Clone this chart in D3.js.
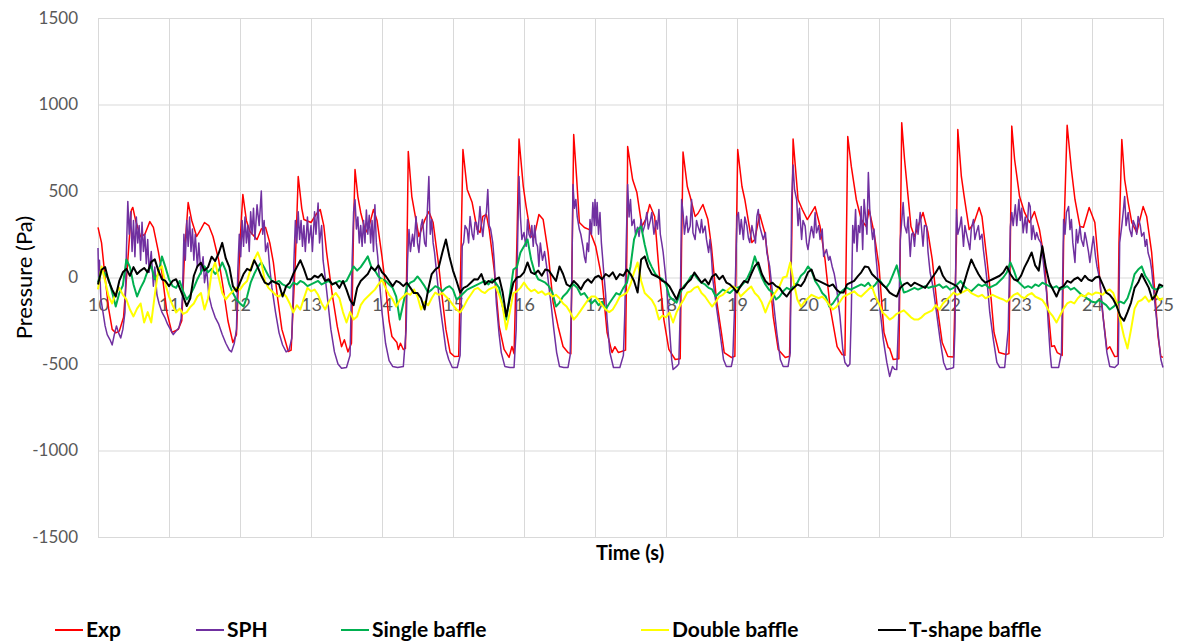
<!DOCTYPE html>
<html>
<head>
<meta charset="utf-8">
<script src="https://cdn.jsdelivr.net/npm/d3@7/dist/d3.min.js"></script>
<style>
	body { margin: 0; background: #fff; }
	svg { display: block; font-family: Lato, "Open Sans", sans-serif; }
</style>
</head>
<body>
<svg id="chart" width="1182" height="643"></svg>
<script>
	// ticks
	var xTicks = [10, 11, 12, 13, 14, 15, 16, 17, 18, 19, 20, 21, 22, 23, 24, 25];
	var yTicks = [-1500, -1000, -500, 0, 500, 1000, 1500];

	// Exp, [time s, pressure Pa]
	var expData = [
		[10.00,290],[10.05,200],[10.10,0],[10.15,-180],[10.20,-300],[10.25,-320],[10.30,-310],[10.36,-230],[10.42,100],[10.47,390],[10.49,405],[10.53,330],[10.60,235],[10.66,250],[10.73,323],[10.78,290],[10.85,150],[10.90,30],[10.97,-200],
		[11.04,-318],[11.13,-300],[11.18,-250],[11.22,150],[11.27,433],[11.32,330],[11.39,237],[11.45,280],[11.50,318],[11.56,300],[11.62,237],[11.70,100],[11.76,-52],[11.83,-250],[11.90,-376],[11.95,-330],
		[12.00,200],[12.04,480],[12.09,330],[12.14,266],[12.24,220],[12.30,280],[12.36,290],[12.42,200],[12.47,87],[12.53,-120],[12.59,-300],[12.64,-370],[12.68,-428],[12.72,-420],[12.78,100],[12.82,584],[12.87,400],[12.90,335],
		[13.00,318],[13.08,370],[13.13,393],[13.18,300],[13.22,145],[13.30,-100],[13.37,-283],[13.43,-400],[13.47,-360],[13.52,-430],[13.57,-380],[13.60,300],[13.62,624],[13.66,468],[13.70,376],[13.77,260],[13.82,300],[13.88,393],[13.93,330],
		[14.00,120],[14.05,-50],[14.10,-250],[14.14,-341],[14.21,-376],[14.23,-416],[14.26,-380],[14.30,-416],[14.33,-410],[14.35,100],[14.37,728],[14.42,468],[14.46,375],[14.52,237],[14.60,330],[14.66,381],[14.72,318],[14.80,64],[14.84,-87],[14.90,-300],[14.96,-434],
		[15.02,-457],[15.08,-455],[15.11,100],[15.14,740],[15.20,509],[15.27,433],[15.34,277],[15.38,260],[15.42,353],[15.47,364],[15.51,277],[15.58,46],[15.65,-283],[15.72,-416],[15.79,-462],[15.83,-399],[15.86,-440],[15.90,200],[15.93,800],[15.99,526],
		[16.03,410],[16.10,237],[16.14,231],[16.21,364],[16.27,335],[16.34,145],[16.41,-145],[16.48,-283],[16.55,-399],[16.62,-434],[16.66,-440],[16.68,200],[16.70,827],[16.74,584],[16.78,318],[16.85,289],[16.92,277],
		[17.01,180],[17.10,-12],[17.17,-318],[17.24,-434],[17.28,-400],[17.33,-434],[17.43,-420],[17.45,200],[17.46,757],[17.53,566],[17.59,491],[17.66,295],[17.72,340],[17.77,422],[17.84,353],[17.90,46],[17.97,-243],
		[18.04,-416],[18.13,-474],[18.20,-470],[18.22,200],[18.24,725],[18.30,526],[18.34,468],[18.41,353],[18.45,370],[18.52,422],[18.59,335],[18.64,180],[18.71,-127],[18.78,-318],[18.82,-434],[18.92,-462],[18.97,-455],[18.99,200],
		[19.01,740],[19.07,526],[19.11,451],[19.21,202],[19.25,220],[19.32,364],[19.39,260],[19.44,104],[19.51,-225],[19.58,-416],[19.68,-462],[19.74,-455],[19.77,200],[19.79,800],[19.86,451],[19.92,393],[19.99,335],
		[20.10,410],[20.17,295],[20.24,104],[20.31,-168],[20.41,-399],[20.48,-445],[20.52,-450],[20.54,200],[20.56,815],[20.61,642],[20.68,451],[20.75,335],[20.82,295],[20.86,393],[20.93,260],
		[21.00,64],[21.07,-318],[21.13,-405],[21.15,-410],[21.20,-474],[21.28,-470],[21.30,200],[21.32,895],[21.36,682],[21.40,509],[21.45,295],[21.50,237],[21.62,376],[21.69,260],[21.75,104],[21.82,-168],[21.89,-376],[21.93,-416],[21.97,-457],
		[22.05,-460],[22.09,200],[22.11,855],[22.16,584],[22.20,468],[22.27,277],[22.34,318],[22.41,405],[22.45,353],[22.52,104],[22.58,-127],[22.62,-318],[22.69,-434],[22.79,-445],[22.83,-440],[22.85,200],[22.87,875],[22.91,682],[22.98,468],
		[23.05,376],[23.12,318],[23.19,381],[23.26,277],[23.33,104],[23.37,-127],[23.43,-399],[23.47,-395],[23.51,-434],[23.58,-450],[23.60,200],[23.65,880],[23.71,624],[23.76,451],[23.83,295],[23.88,290],[23.96,405],
		[24.04,318],[24.09,87],[24.14,-168],[24.21,-416],[24.25,-400],[24.32,-457],[24.36,-455],[24.38,200],[24.42,798],[24.46,566],[24.51,433],[24.56,318],[24.63,260],[24.72,410],[24.77,353],[24.84,145],[24.89,-110],[24.93,-341],[24.97,-457],[25.00,-462]
	];

	// SPH
	var sphData = [
		[10.00,170],[10.01,-40],[10.02,100],[10.04,-120],[10.07,-200],[10.10,-280],[10.13,-330],[10.17,-360],[10.20,-390],[10.23,-330],[10.26,-280],[10.29,-320],[10.32,-350],[10.35,-300],[10.38,-200],[10.40,150],[10.42,440],[10.44,250],[10.46,380],[10.48,150],[10.50,330],[10.52,120],[10.54,350],[10.56,200],[10.58,300],[10.60,100],[10.62,320],[10.64,150],[10.66,250],[10.68,80],[10.70,220],[10.72,30],[10.75,150],[10.78,-50],[10.80,60],[10.83,-100],[10.86,-150],[10.90,-200],[10.94,-230],[10.98,-270],
		[11.02,-300],[11.06,-330],[11.10,-310],[11.14,-290],[11.17,-240],[11.19,-100],[11.21,250],[11.23,100],[11.25,330],[11.27,180],[11.29,350],[11.31,150],[11.33,280],[11.35,100],[11.37,250],[11.40,60],[11.42,200],[11.45,20],[11.48,120],[11.50,-30],[11.53,50],[11.56,-100],[11.60,-170],[11.65,-230],[11.70,-270],[11.75,-330],[11.80,-380],[11.85,-420],[11.88,-430],[11.92,-380],[11.95,-300],[11.97,50],[11.99,250],
		[12.01,120],[12.03,330],[12.05,180],[12.07,350],[12.09,200],[12.11,300],[12.13,150],[12.15,380],[12.17,250],[12.19,400],[12.21,220],[12.24,420],[12.27,300],[12.30,500],[12.32,250],[12.34,330],[12.36,150],[12.39,200],[12.42,50],[12.45,-60],[12.50,-200],[12.55,-320],[12.60,-390],[12.65,-430],[12.69,-420],[12.73,-350],[12.76,100],[12.78,330],[12.80,200],[12.82,380],[12.84,220],[12.86,330],[12.88,180],[12.90,300],[12.92,150],[12.95,350],[12.97,200],
		[13.00,300],[13.02,150],[13.05,380],[13.07,250],[13.10,430],[13.12,200],[13.15,300],[13.17,100],[13.20,0],[13.24,-150],[13.28,-300],[13.33,-430],[13.38,-500],[13.43,-525],[13.50,-520],[13.55,-450],[13.58,100],[13.60,380],[13.62,450],[13.64,280],[13.66,350],[13.68,200],[13.70,300],[13.72,180],[13.74,330],[13.76,200],[13.78,390],[13.80,250],[13.82,360],[13.84,200],[13.86,330],[13.88,150],[13.90,420],[13.92,200],[13.94,120],[13.97,-50],
		[14.00,-200],[14.05,-380],[14.10,-480],[14.15,-514],[14.22,-520],[14.30,-515],[14.34,-300],[14.36,100],[14.38,277],[14.40,150],[14.43,250],[14.45,180],[14.48,353],[14.50,200],[14.52,145],[14.55,300],[14.57,335],[14.60,200],[14.62,180],[14.64,400],[14.66,584],[14.68,250],[14.70,335],[14.72,200],[14.74,145],[14.76,64],[14.80,-100],[14.83,-202],[14.90,-416],[14.94,-474],[14.99,-520],
		[15.06,-520],[15.10,-450],[15.12,-100],[15.13,180],[15.15,202],[15.17,300],[15.20,277],[15.22,200],[15.24,353],[15.27,250],[15.29,220],[15.31,320],[15.33,318],[15.35,250],[15.38,410],[15.40,300],[15.42,237],[15.44,330],[15.47,376],[15.49,509],[15.51,300],[15.53,280],[15.56,202],[15.58,100],[15.61,-145],[15.65,-330],[15.68,-434],[15.73,-514],[15.80,-520],[15.86,-520],[15.89,-300],[15.91,200],[15.93,584],[15.95,350],[15.97,220],
		[16.00,260],[16.02,200],[16.03,180],[16.05,335],[16.07,250],[16.09,230],[16.11,300],[16.13,180],[16.15,300],[16.17,200],[16.19,180],[16.21,64],[16.23,200],[16.26,100],[16.29,150],[16.32,60],[16.35,-52],[16.38,-150],[16.42,-300],[16.46,-434],[16.50,-514],[16.56,-520],[16.62,-520],[16.65,-450],[16.67,-100],[16.69,538],[16.71,400],[16.73,451],[16.75,350],[16.78,277],[16.80,250],[16.83,180],[16.85,120],[16.87,87],[16.89,200],[16.91,150],[16.93,335],[16.95,250],[16.97,433],[16.99,300],
		[17.00,451],[17.02,300],[17.03,433],[17.05,250],[17.07,376],[17.09,200],[17.11,100],[17.12,46],[17.15,-100],[17.17,-243],[17.21,-434],[17.26,-520],[17.35,-520],[17.40,-450],[17.42,-200],[17.44,200],[17.46,538],[17.48,350],[17.50,451],[17.52,300],[17.55,335],[17.57,250],[17.60,290],[17.62,237],[17.65,335],[17.67,260],[17.70,300],[17.73,376],[17.75,280],[17.78,330],[17.80,376],[17.83,250],[17.86,330],[17.88,280],[17.90,393],[17.92,250],[17.94,200],[17.96,145],
		[18.01,-52],[18.05,-300],[18.08,-474],[18.10,-532],[18.15,-514],[18.18,-500],[18.20,-200],[18.22,451],[18.24,376],[18.26,250],[18.29,354],[18.31,260],[18.34,297],[18.36,451],[18.38,258],[18.41,220],[18.43,330],[18.45,297],[18.48,258],[18.50,335],[18.52,258],[18.55,297],[18.57,220],[18.60,145],[18.62,220],[18.64,122],[18.66,-12],[18.71,-168],[18.76,-318],[18.81,-474],[18.85,-514],[18.92,-514],[18.94,-474],[18.97,-127],
		[19.00,353],[19.02,376],[19.04,250],[19.06,335],[19.09,220],[19.11,350],[19.14,297],[19.16,230],[19.18,202],[19.21,300],[19.23,258],[19.26,200],[19.28,353],[19.30,393],[19.32,297],[19.35,250],[19.37,220],[19.40,260],[19.42,145],[19.46,64],[19.51,-127],[19.56,-318],[19.61,-474],[19.65,-514],[19.72,-514],[19.75,-434],[19.77,451],[19.79,650],[19.81,509],[19.84,451],[19.86,300],[19.88,400],[19.91,220],[19.93,330],[19.96,297],[19.98,200],
		[20.00,162],[20.03,250],[20.05,295],[20.08,230],[20.10,376],[20.12,258],[20.15,300],[20.17,220],[20.20,280],[20.22,122],[20.26,162],[20.29,100],[20.31,122],[20.34,64],[20.37,20],[20.40,-52],[20.45,-225],[20.49,-416],[20.52,-491],[20.56,-514],[20.59,-500],[20.61,-200],[20.63,300],[20.65,200],[20.67,393],[20.69,150],[20.71,300],[20.73,260],[20.75,410],[20.77,162],[20.79,451],[20.81,353],[20.83,250],[20.85,607],[20.87,393],[20.89,300],[20.91,220],[20.93,280],[20.95,150],[20.97,64],
		[21.01,-168],[21.06,-358],[21.11,-491],[21.15,-572],[21.19,-514],[21.22,-530],[21.25,-532],[21.28,-200],[21.30,220],[21.34,433],[21.36,300],[21.39,258],[21.41,350],[21.44,122],[21.46,250],[21.48,258],[21.50,180],[21.53,335],[21.55,250],[21.58,376],[21.60,280],[21.62,181],[21.64,300],[21.67,297],[21.69,150],[21.72,29],[21.76,-52],[21.81,-202],[21.86,-358],[21.91,-491],[21.95,-532],
		[22.02,-525],[22.05,-520],[22.07,-300],[22.09,393],[22.11,250],[22.14,297],[22.16,350],[22.19,180],[22.21,300],[22.23,258],[22.26,200],[22.28,162],[22.30,280],[22.33,335],[22.35,220],[22.37,258],[22.40,300],[22.42,220],[22.45,250],[22.47,162],[22.50,60],[22.52,-12],[22.56,-202],[22.61,-358],[22.66,-491],[22.70,-520],[22.77,-520],[22.82,-300],[22.85,295],[22.87,376],[22.89,300],[22.92,420],[22.94,300],[22.97,451],[22.99,330],
		[23.01,400],[23.03,258],[23.06,350],[23.08,258],[23.11,433],[23.13,410],[23.15,220],[23.17,300],[23.20,220],[23.22,260],[23.25,220],[23.28,200],[23.31,104],[23.36,-87],[23.38,-243],[23.41,-434],[23.43,-520],[23.53,-520],[23.57,-434],[23.60,335],[23.62,250],[23.64,376],[23.67,410],[23.69,277],[23.71,335],[23.73,200],[23.76,87],[23.78,277],[23.80,200],[23.83,295],[23.85,220],[23.88,181],[23.90,260],[23.92,220],[23.95,150],[23.97,87],
		[24.00,180],[24.02,237],[24.05,120],[24.07,64],[24.11,-12],[24.16,-243],[24.21,-434],[24.25,-514],[24.32,-520],[24.37,-500],[24.39,202],[24.42,300],[24.44,380],[24.46,468],[24.48,300],[24.51,376],[24.53,280],[24.56,237],[24.58,330],[24.61,297],[24.63,250],[24.65,353],[24.68,300],[24.70,239],[24.73,260],[24.75,180],[24.77,220],[24.79,143],[24.82,100],[24.84,46],[24.89,-168],[24.93,-318],[24.97,-474],[25.00,-520]
	];

	// Single baffle
	var singleData = [
		[10.00,-29],[10.05,46],[10.10,20],[10.15,-10],[10.20,-87],[10.25,-168],[10.30,-90],[10.35,-46],[10.40,104],[10.45,60],[10.50,-40],[10.55,-110],[10.60,-60],[10.65,-20],[10.70,40],[10.75,65],[10.80,-10],[10.85,20],[10.90,122],[10.95,60],
		[11.00,-10],[11.05,-50],[11.10,-60],[11.15,-20],[11.20,-80],[11.25,-127],[11.30,-100],[11.35,-60],[11.40,-10],[11.45,30],[11.50,65],[11.55,30],[11.60,50],[11.65,20],[11.70,40],[11.75,87],[11.80,40],[11.85,-40],[11.90,-90],[11.95,-127],
		[12.00,-150],[12.05,-168],[12.10,-110],[12.15,-30],[12.20,20],[12.25,60],[12.30,87],[12.35,50],[12.40,10],[12.45,-20],[12.50,-30],[12.55,-20],[12.60,-40],[12.65,-50],[12.70,-60],[12.75,-30],[12.80,-40],[12.85,-20],[12.90,-30],[12.95,-50],
		[13.00,-40],[13.05,-30],[13.10,-20],[13.15,-40],[13.20,-30],[13.25,-20],[13.30,-40],[13.35,-30],[13.40,-20],[13.45,-30],[13.50,-20],[13.55,20],[13.60,64],[13.65,40],[13.70,60],[13.75,90],[13.80,122],[13.85,60],[13.90,40],[13.95,6],
		[14.00,-10],[14.05,-20],[14.10,-40],[14.15,-60],[14.20,-110],[14.25,-243],[14.30,-150],[14.35,-52],[14.40,-30],[14.45,-20],[14.50,6],[14.55,-20],[14.60,-50],[14.65,-87],[14.70,-70],[14.75,-50],[14.80,-60],[14.85,-80],[14.90,-60],[14.95,-50],
		[15.00,-70],[15.05,-127],[15.10,-110],[15.15,-90],[15.20,-70],[15.25,-60],[15.30,-50],[15.35,-40],[15.40,-30],[15.45,-20],[15.50,-40],[15.55,-10],[15.60,-30],[15.65,-60],[15.70,-168],[15.75,-243],[15.80,-100],[15.85,46],[15.90,60],[15.95,145],
		[16.00,180],[16.05,220],[16.10,104],[16.15,30],[16.20,-10],[16.25,-20],[16.30,-30],[16.35,-50],[16.40,-87],[16.45,-168],[16.50,-145],[16.55,-110],[16.60,-90],[16.65,-60],[16.70,-40],[16.75,-60],[16.80,-100],[16.85,-90],[16.90,-120],[16.95,-150],
		[17.00,-130],[17.05,-160],[17.10,-140],[17.15,-185],[17.20,-150],[17.25,-120],[17.30,-90],[17.35,-100],[17.40,-60],[17.45,-30],[17.50,64],[17.55,220],[17.60,277],[17.65,295],[17.70,190],[17.75,104],[17.80,60],[17.85,20],[17.90,0],[17.95,-10],
		[18.00,-40],[18.05,-110],[18.10,-130],[18.15,-145],[18.20,-90],[18.25,-50],[18.30,-29],[18.35,6],[18.40,18],[18.45,-10],[18.50,-30],[18.55,-40],[18.60,-60],[18.65,-69],[18.70,-110],[18.75,-90],[18.80,-70],[18.85,-80],[18.90,-90],[18.95,-70],
		[19.00,-60],[19.05,-52],[19.10,-30],[19.15,0],[19.20,46],[19.25,122],[19.30,60],[19.35,0],[19.40,-40],[19.45,-70],[19.50,-87],[19.55,-127],[19.60,-110],[19.65,-80],[19.70,-60],[19.75,-70],[19.80,-50],[19.85,-30],[19.90,10],[19.95,29],
		[20.00,64],[20.05,40],[20.10,-20],[20.15,-50],[20.20,-90],[20.25,-110],[20.30,-168],[20.35,-150],[20.40,-120],[20.45,-90],[20.50,-70],[20.55,-60],[20.60,-70],[20.65,-60],[20.70,-50],[20.75,-40],[20.80,-50],[20.85,-30],[20.90,-60],[20.95,-40],
		[21.00,-10],[21.05,-40],[21.10,-60],[21.15,-30],[21.20,20],[21.25,70],[21.30,-20],[21.35,-87],[21.40,-80],[21.45,-70],[21.50,-60],[21.55,-70],[21.60,-60],[21.65,-50],[21.70,-60],[21.75,-52],[21.80,-50],[21.85,-40],[21.90,-60],[21.95,-50],
		[22.00,-70],[22.05,-60],[22.10,-40],[22.15,-20],[22.20,-50],[22.25,-69],[22.30,-80],[22.35,-60],[22.40,-40],[22.45,-50],[22.50,-40],[22.55,-60],[22.60,-50],[22.65,-40],[22.70,-20],[22.75,0],[22.80,29],[22.85,87],[22.90,40],[22.95,-20],
		[23.00,-40],[23.05,-60],[23.10,-50],[23.15,-60],[23.20,-40],[23.25,-50],[23.30,-30],[23.35,-40],[23.40,-50],[23.45,-60],[23.50,-50],[23.55,-70],[23.60,-60],[23.65,-50],[23.70,-70],[23.75,-60],[23.80,-80],[23.85,-100],[23.90,-110],[23.95,-127],
		[24.00,-140],[24.05,-145],[24.10,-130],[24.15,-145],[24.20,-160],[24.25,-185],[24.30,-170],[24.35,-150],[24.40,-140],[24.45,-150],[24.50,-120],[24.55,-60],[24.60,20],[24.65,46],[24.70,64],[24.75,10],[24.80,-20],[24.85,-60],[24.90,-70],[24.95,-60],[25.00,-50]
	];

	// Double baffle
	var doubleData = [
		[10.00,-69],[10.05,64],[10.10,-20],[10.15,-110],[10.20,-150],[10.25,-90],[10.30,-60],[10.35,-100],[10.40,-127],[10.45,-185],[10.50,-225],[10.55,-180],[10.60,-150],[10.65,-260],[10.70,-200],[10.75,-260],[10.80,-100],[10.85,46],[10.90,65],[10.95,-40],
		[11.00,-110],[11.05,-160],[11.10,-202],[11.15,-180],[11.20,-210],[11.25,-200],[11.30,-170],[11.35,-150],[11.40,-110],[11.45,-90],[11.50,-185],[11.55,-120],[11.60,30],[11.65,87],[11.70,0],[11.75,-90],[11.80,-127],[11.85,-100],[11.90,-80],[11.95,-60],
		[12.00,-70],[12.05,-40],[12.10,-20],[12.15,50],[12.20,104],[12.25,145],[12.30,90],[12.35,-20],[12.40,-60],[12.45,-80],[12.50,-100],[12.55,-110],[12.60,-90],[12.65,-110],[12.70,-150],[12.75,-202],[12.80,-160],[12.85,-185],[12.90,-120],[12.95,-60],
		[13.00,-80],[13.05,-70],[13.10,-100],[13.15,-150],[13.20,-185],[13.25,-140],[13.30,-110],[13.35,-90],[13.40,-120],[13.45,-200],[13.50,-260],[13.55,-200],[13.60,-243],[13.65,-225],[13.70,-160],[13.75,-130],[13.80,-110],[13.85,-90],[13.90,-70],[13.95,-40],
		[14.00,-12],[14.05,-60],[14.10,-100],[14.15,-127],[14.20,-168],[14.25,-130],[14.30,-110],[14.35,-90],[14.40,-100],[14.45,-69],[14.50,-110],[14.55,-185],[14.60,-140],[14.65,-160],[14.70,-120],[14.75,-87],[14.80,-100],[14.85,-90],[14.90,-110],[14.95,-130],
		[15.00,-160],[15.05,-185],[15.10,-202],[15.15,-170],[15.20,-130],[15.25,-100],[15.30,-69],[15.35,-60],[15.40,-80],[15.45,-90],[15.50,-70],[15.55,-60],[15.60,-52],[15.65,-100],[15.70,-168],[15.75,-300],[15.80,-200],[15.85,-90],[15.90,-80],[15.95,-60],
		[16.00,-29],[16.05,-60],[16.10,-80],[16.15,-70],[16.20,-90],[16.25,-80],[16.30,-100],[16.35,-90],[16.40,-110],[16.45,-100],[16.50,-120],[16.55,-150],[16.60,-168],[16.65,-200],[16.70,-243],[16.75,-220],[16.80,-190],[16.85,-160],[16.90,-130],[16.95,-110],
		[17.00,-110],[17.05,-130],[17.10,-160],[17.15,-185],[17.20,-200],[17.25,-185],[17.30,-150],[17.35,-110],[17.40,-100],[17.45,-87],[17.50,-40],[17.55,30],[17.60,87],[17.65,-20],[17.70,-90],[17.75,-110],[17.80,-130],[17.85,-168],[17.90,-243],[17.95,-220],
		[18.00,-230],[18.05,-202],[18.10,-260],[18.15,-200],[18.20,-160],[18.25,-127],[18.30,-87],[18.35,-80],[18.40,-60],[18.45,-52],[18.50,-90],[18.55,-110],[18.60,-140],[18.65,-168],[18.70,-140],[18.75,-110],[18.80,-100],[18.85,-80],[18.90,-60],[18.95,-52],
		[19.00,-70],[19.05,-110],[19.10,-90],[19.15,-70],[19.20,-52],[19.25,-90],[19.30,-110],[19.35,-145],[19.40,-202],[19.45,-150],[19.50,-110],[19.55,-80],[19.60,-50],[19.65,0],[19.70,6],[19.75,87],[19.80,-30],[19.85,-127],[19.90,-168],[19.95,-140],
		[20.00,-120],[20.05,-100],[20.10,-110],[20.15,-120],[20.20,-110],[20.25,-130],[20.30,-160],[20.35,-185],[20.40,-170],[20.45,-140],[20.50,-110],[20.55,-100],[20.60,-90],[20.65,-80],[20.70,-100],[20.75,-110],[20.80,-90],[20.85,-70],[20.90,-52],[20.95,-110],
		[21.00,-150],[21.05,-202],[21.10,-220],[21.15,-243],[21.20,-230],[21.25,-210],[21.30,-200],[21.35,-190],[21.40,-210],[21.45,-230],[21.50,-243],[21.55,-243],[21.60,-230],[21.65,-210],[21.70,-200],[21.75,-190],[21.80,-160],[21.85,-185],[21.90,-150],[21.95,-130],
		[22.00,-110],[22.05,-87],[22.10,-100],[22.15,-90],[22.20,-80],[22.25,-69],[22.30,-90],[22.35,-100],[22.40,-110],[22.45,-100],[22.50,-120],[22.55,-110],[22.60,-100],[22.65,-110],[22.70,-120],[22.75,-127],[22.80,-140],[22.85,-120],[22.90,-100],[22.95,-90],
		[23.00,-110],[23.05,-120],[23.10,-100],[23.15,-90],[23.20,-110],[23.25,-120],[23.30,-130],[23.35,-160],[23.40,-200],[23.45,-225],[23.50,-260],[23.55,-220],[23.60,-180],[23.65,-150],[23.70,-140],[23.75,-150],[23.80,-120],[23.85,-100],[23.90,-110],[23.95,-90],
		[24.00,-100],[24.05,-87],[24.10,-90],[24.15,-100],[24.20,-80],[24.25,-69],[24.30,-90],[24.35,-150],[24.40,-250],[24.45,-340],[24.50,-410],[24.55,-300],[24.60,-180],[24.65,-140],[24.70,-130],[24.75,-110],[24.80,-140],[24.85,-120],[24.90,-100],[24.95,-130],[25.00,-120]
	];

	// T-shape baffle
	var tshapeData = [
		[10.00,-40],[10.05,45],[10.10,60],[10.15,-20],[10.20,-70],[10.25,-110],[10.30,-20],[10.35,30],[10.40,50],[10.45,10],[10.50,60],[10.55,20],[10.60,40],[10.65,55],[10.70,30],[10.75,90],[10.80,105],[10.85,40],[10.90,-10],[10.95,-20],
		[11.00,-50],[11.05,-20],[11.10,-10],[11.15,-60],[11.20,-110],[11.25,-165],[11.30,-120],[11.35,10],[11.40,65],[11.45,85],[11.50,40],[11.55,60],[11.60,120],[11.65,95],[11.70,140],[11.75,200],[11.80,110],[11.85,60],[11.90,-50],[11.95,-80],
		[12.00,-30],[12.05,20],[12.10,50],[12.15,40],[12.20,100],[12.25,60],[12.30,10],[12.35,-30],[12.40,-40],[12.45,-20],[12.50,-30],[12.55,-40],[12.60,-110],[12.65,-50],[12.70,-30],[12.75,20],[12.80,60],[12.85,100],[12.90,50],[12.95,-10],
		[13.00,-10],[13.05,10],[13.10,0],[13.15,20],[13.20,-20],[13.25,-10],[13.30,-40],[13.35,-30],[13.40,-60],[13.45,-20],[13.50,-70],[13.55,-130],[13.60,-160],[13.65,-60],[13.70,-20],[13.75,0],[13.80,20],[13.85,60],[13.90,40],[13.95,70],
		[14.00,30],[14.05,10],[14.10,-20],[14.15,-50],[14.20,-20],[14.25,-30],[14.30,-50],[14.35,-30],[14.40,-60],[14.45,-90],[14.50,-90],[14.55,-120],[14.60,-185],[14.65,-70],[14.70,20],[14.75,46],[14.80,60],[14.85,145],[14.90,220],[14.95,120],
		[15.00,40],[15.05,-20],[15.10,-87],[15.15,-60],[15.20,-50],[15.25,-30],[15.30,-10],[15.35,-12],[15.40,20],[15.45,-40],[15.50,-20],[15.55,-30],[15.60,-10],[15.65,0],[15.70,-87],[15.75,-225],[15.80,-120],[15.85,-30],[15.90,0],[15.95,6],
		[16.00,30],[16.05,87],[16.10,30],[16.15,20],[16.20,40],[16.25,10],[16.30,46],[16.35,40],[16.40,10],[16.45,-20],[16.50,64],[16.55,20],[16.60,-40],[16.65,-52],[16.70,-20],[16.75,-40],[16.80,-69],[16.85,-30],[16.90,-10],[16.95,-30],
		[17.00,0],[17.05,10],[17.10,-10],[17.15,20],[17.20,6],[17.25,30],[17.30,-10],[17.35,20],[17.40,10],[17.45,46],[17.50,20],[17.55,-20],[17.60,-87],[17.65,104],[17.70,122],[17.75,60],[17.80,20],[17.85,10],[17.90,0],[17.95,-20],
		[18.00,-30],[18.05,-52],[18.10,-90],[18.15,-127],[18.20,-70],[18.25,-60],[18.30,-30],[18.35,-12],[18.40,29],[18.45,0],[18.50,-30],[18.55,-10],[18.60,-40],[18.65,6],[18.70,20],[18.75,-10],[18.80,10],[18.85,-29],[18.90,-40],[18.95,-60],
		[19.00,-87],[19.05,-50],[19.10,-20],[19.15,-30],[19.20,20],[19.25,64],[19.30,87],[19.35,20],[19.40,-20],[19.45,-40],[19.50,-30],[19.55,-50],[19.60,-60],[19.65,-90],[19.70,-110],[19.75,-80],[19.80,-60],[19.85,-40],[19.90,-50],[19.95,-20],
		[20.00,30],[20.05,46],[20.10,-10],[20.15,-20],[20.20,-30],[20.25,-40],[20.30,-50],[20.35,-40],[20.40,-69],[20.45,-87],[20.50,-87],[20.55,-40],[20.60,-30],[20.65,-20],[20.70,6],[20.75,30],[20.80,64],[20.85,60],[20.90,20],[20.95,0],
		[21.00,-20],[21.05,-40],[21.10,-60],[21.15,-87],[21.20,-100],[21.25,-110],[21.30,-60],[21.35,-40],[21.40,-30],[21.45,-50],[21.50,-30],[21.55,-40],[21.60,-50],[21.65,-60],[21.70,-30],[21.75,0],[21.80,29],[21.85,64],[21.90,10],[21.95,-20],
		[22.00,-30],[22.05,-40],[22.10,-52],[22.15,-87],[22.20,-30],[22.25,40],[22.30,104],[22.35,60],[22.40,20],[22.45,-12],[22.50,-30],[22.55,-20],[22.60,-10],[22.65,0],[22.70,10],[22.75,29],[22.80,64],[22.85,20],[22.90,-10],[22.95,-20],
		[23.00,10],[23.05,60],[23.10,100],[23.15,145],[23.20,70],[23.25,40],[23.30,180],[23.35,60],[23.40,-30],[23.45,-69],[23.50,-110],[23.55,-60],[23.60,-50],[23.65,-20],[23.70,-30],[23.75,-10],[23.80,0],[23.85,-20],[23.90,10],[23.95,-12],
		[24.00,-20],[24.05,0],[24.10,6],[24.15,-40],[24.20,-87],[24.25,-100],[24.30,-127],[24.35,-168],[24.40,-225],[24.45,-250],[24.50,-200],[24.55,-145],[24.60,-60],[24.65,-29],[24.70,20],[24.75,-20],[24.80,-60],[24.85,-127],[24.90,-100],[24.95,-40],[25.00,-50]
	];

	var seriesNames = ["Exp", "SPH", "Single baffle", "Double baffle", "T-shape baffle"];
	var seriesColors = ["#ff0000", "#7030a0", "#00b050", "#ffff00", "#000000"];
	var seriesWidths = [1.5, 1.5, 2, 2, 2];
	var seriesData = [expData, sphData, singleData, doubleData, tshapeData];
	var legendX = [55, 196, 341, 641, 878];

	(function() {
		var svg = d3.select("#chart");
		var plotLeft = 98, plotRight = 1163, plotTop = 18, plotBottom = 537;

		var x = d3.scaleLinear().domain([10, 25]).range([plotLeft, plotRight]);
		var y = d3.scaleLinear().domain([-1500, 1500]).range([plotBottom, plotTop]);

		// plain hyphen minus like the original
		var fmt = function(d) { return String(d); };

		// vertical grid
		var gx = svg.append("g")
			.attr("transform", "translate(0," + plotBottom + ")")
			.call(d3.axisBottom(x).tickValues(xTicks).tickSize(-(plotBottom - plotTop)).tickFormat(""));
		gx.select(".domain").remove();
		gx.selectAll("line").attr("stroke", "#d9d9d9");

		// horizontal grid + y labels
		var gy = svg.append("g")
			.attr("transform", "translate(" + plotLeft + ",0)")
			.call(d3.axisLeft(y).tickValues(yTicks).tickSize(-(plotRight - plotLeft)).tickPadding(20).tickFormat(fmt));
		gy.select(".domain").remove();
		gy.selectAll("line").attr("stroke", "#d9d9d9");
		gy.selectAll("text")
			.attr("fill", "#595959")
			.style("font-size", "17px")
			.style("font-family", "Lato, sans-serif");

		// x labels sit on the zero line
		var gl = svg.append("g")
			.attr("transform", "translate(0," + y(0) + ")")
			.call(d3.axisBottom(x).tickValues(xTicks).tickSize(0).tickPadding(21).tickFormat(fmt));
		gl.select(".domain").remove();
		gl.selectAll("text")
			.attr("fill", "#595959")
			.style("font-size", "18px")
			.style("font-family", "Lato, sans-serif");

		var line = d3.line()
			.x(function(d) { return x(d[0]); })
			.y(function(d) { return y(d[1]); });

		svg.append("g").attr("class", "series")
			.selectAll("path")
			.data(seriesData)
			.enter().append("path")
				.attr("d", line)
				.attr("fill", "none")
				.attr("stroke", function(d, i) { return seriesColors[i]; })
				.attr("stroke-width", function(d, i) { return seriesWidths[i]; })
				.attr("stroke-linejoin", "round");

		// axis titles
		svg.append("text")
			.attr("transform", "translate(24," + y(0) + ") rotate(-90)")
			.attr("text-anchor", "middle")
			.attr("dy", "0.35em")
			.style("font-size", "22px")
			.text("Pressure (Pa)");

		svg.append("text")
			.attr("x", 630)
			.attr("y", 553)
			.attr("dy", "0.35em")
			.attr("text-anchor", "middle")
			.style("font-size", "20px")
			.style("font-weight", "bold")
			.text("Time (s)");

		// legend
		var leg = svg.append("g").attr("class", "legend")
			.selectAll("g")
			.data(seriesNames)
			.enter().append("g")
				.attr("transform", function(d, i) { return "translate(" + legendX[i] + ",630)"; });

		leg.append("line")
			.attr("x1", 0).attr("x2", 28)
			.attr("stroke", function(d, i) { return seriesColors[i]; })
			.attr("stroke-width", 2);

		leg.append("text")
			.attr("x", 31)
			.attr("dy", "0.35em")
			.style("font-size", "21px")
			.style("font-weight", "bold")
			.text(function(d) { return d; });
	})();
</script>
</body>
</html>
